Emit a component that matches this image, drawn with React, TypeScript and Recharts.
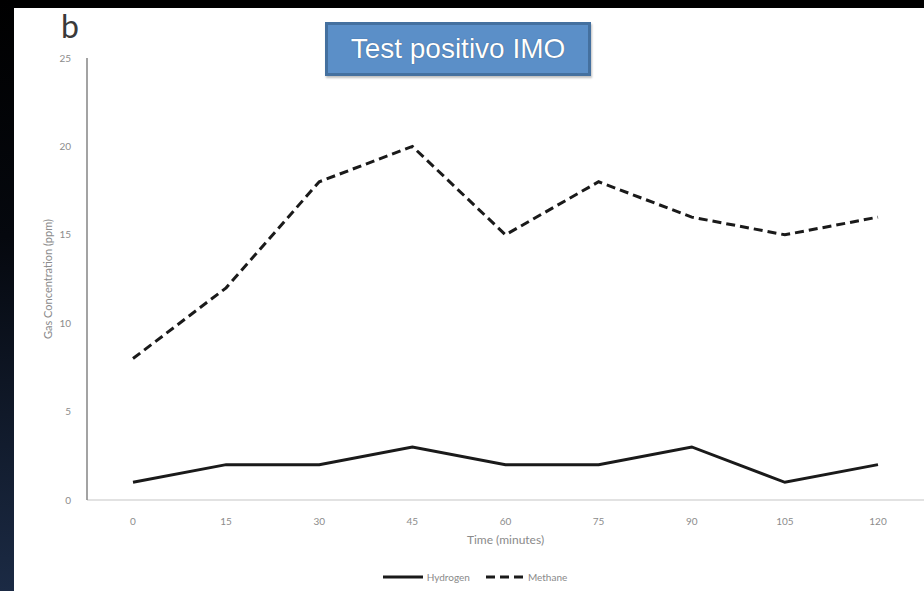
import { LineChart, Line, XAxis, YAxis } from 'recharts';

// Sampling times (minutes)
const times = ['0', '15', '30', '45', '60', '75', '90', '105', '120'];
// Gas readings in ppm
const hydrogen = [1, 2, 2, 3, 2, 2, 3, 1, 2];
const methane = [8, 12, 18, 20, 15, 18, 16, 15, 16];
const yTicks = [0, 5, 10, 15, 20, 25];

const FONT = 'Lato, "Open Sans", sans-serif';
const LINE_COLOR = '#1a1a1a';

const data = times.map((t, i) => ({
  time: t,
  Hydrogen: hydrogen[i],
  Methane: methane[i]
}));

// Legend drawn like the Excel one: line sample + label
const ChartLegend = () => (
  <div
    style={{
      position: 'absolute',
      left: 0,
      top: 563,
      width: 910,
      display: 'flex',
      justifyContent: 'center',
      alignItems: 'center',
      fontFamily: FONT,
      fontSize: 10,
      color: '#8a8a8a',
      paddingLeft: 12,
      boxSizing: 'border-box'
    }}
  >
    <svg width={40} height={6} style={{ marginRight: 4 }}>
      <line x1={0} y1={3} x2={40} y2={3} stroke={LINE_COLOR} strokeWidth={3} />
    </svg>
    <span style={{ marginRight: 16 }}>Hydrogen</span>
    <svg width={37} height={6} style={{ marginRight: 5 }}>
      <line x1={0} y1={3} x2={37} y2={3} stroke={LINE_COLOR} strokeWidth={3} strokeDasharray="9 5" />
    </svg>
    <span>Methane</span>
  </div>
);

const App = () => {
  return (
    <div
      style={{
        position: 'absolute',
        left: 0,
        top: 0,
        width: 924,
        height: 591,
        background: '#000',
        overflow: 'hidden'
      }}
    >
      {/* dark blue slide edge on the left */}
      <div
        style={{
          position: 'absolute',
          left: 0,
          top: 0,
          width: 14,
          height: 591,
          background: 'linear-gradient(to bottom, #000 0%, #05080e 40%, #1b2a44 100%)'
        }}
      />
      <div
        style={{
          position: 'absolute',
          left: 14,
          top: 8,
          width: 910,
          height: 583,
          background: '#fff'
        }}
      >
        <LineChart
          width={910}
          height={583}
          data={data}
          margin={{ top: 50, right: 0, left: 13, bottom: 41 }}
        >
          <XAxis
            dataKey="time"
            padding={{ left: 46, right: 46 }}
            axisLine={{ stroke: '#d9d9d9', strokeWidth: 1.5 }}
            tickLine={false}
            tick={{ fill: '#8c8c8c', fontSize: 10, fontFamily: FONT }}
            tickMargin={12}
            height={50}
            label={{
              value: 'Time (minutes)',
              position: 'insideBottom',
              offset: 6,
              fill: '#8a8a8a',
              fontSize: 12,
              fontFamily: FONT
            }}
          />
          <YAxis
            domain={[0, 25]}
            ticks={yTicks}
            axisLine={{ stroke: '#858585', strokeWidth: 1.5 }}
            tickLine={false}
            tick={{ fill: '#8c8c8c', fontSize: 10, fontFamily: FONT }}
            tickMargin={10}
            width={60}
            label={{
              value: 'Gas Concentration (ppm)',
              angle: -90,
              position: 'insideLeft',
              offset: 21,
              style: { textAnchor: 'middle' },
              fill: '#8a8a8a',
              fontSize: 11,
              fontFamily: FONT
            }}
          />
          <Line
            type="linear"
            dataKey="Hydrogen"
            stroke={LINE_COLOR}
            strokeWidth={3}
            dot={false}
            isAnimationActive={false}
          />
          <Line
            type="linear"
            dataKey="Methane"
            stroke={LINE_COLOR}
            strokeWidth={3}
            strokeDasharray="9 5"
            dot={false}
            isAnimationActive={false}
          />
        </LineChart>

        <ChartLegend />

        {/* panel letter */}
        <div
          style={{
            position: 'absolute',
            left: 47,
            top: 0,
            fontFamily: FONT,
            fontSize: 32,
            color: '#3a3a3a',
            lineHeight: '36px'
          }}
        >
          b
        </div>

        {/* slide title box */}
        <div
          style={{
            position: 'absolute',
            left: 311,
            top: 14,
            width: 266,
            height: 54,
            boxSizing: 'border-box',
            background: '#5b8fc8',
            border: '3px solid #44709f',
            boxShadow: '1px 2px 2px rgba(0,0,0,0.25)',
            color: '#fff',
            fontFamily: '"Liberation Sans", Arial, sans-serif',
            fontSize: 28,
            display: 'flex',
            alignItems: 'center',
            justifyContent: 'center',
            textShadow: '0 0 1px #2c4a6c'
          }}
        >
          Test positivo IMO
        </div>
      </div>
    </div>
  );
};

export default App;
